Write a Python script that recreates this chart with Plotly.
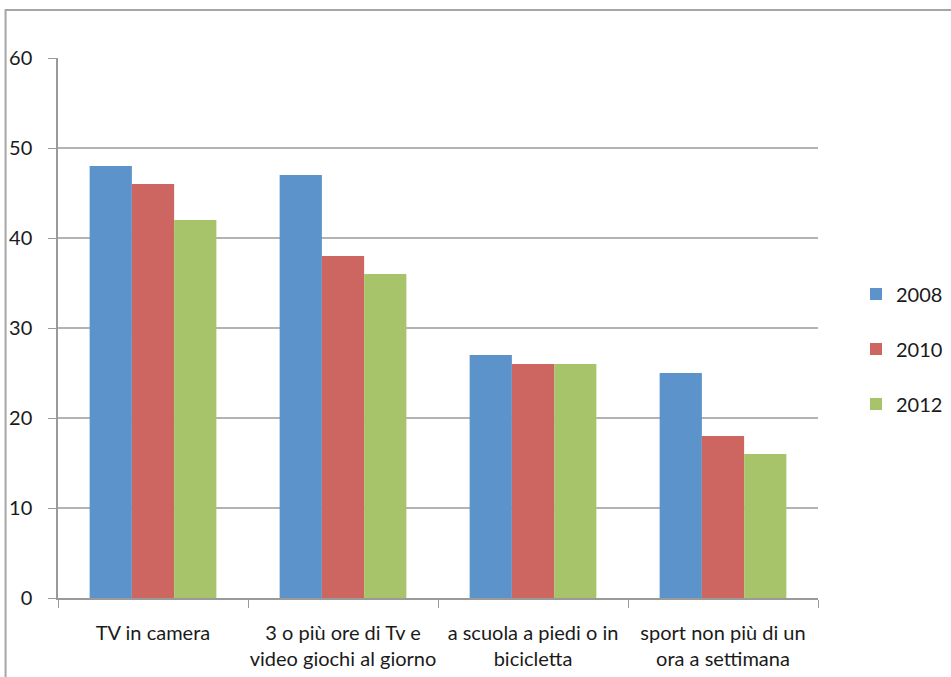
import plotly.graph_objects as go

# dati
categorie = [
    "TV in camera",
    "3 o più ore di Tv e<br>video giochi al giorno",
    "a scuola a piedi o in<br>bicicletta",
    "sport non più di un<br>ora a settimana",
]
anni = ["2008", "2010", "2012"]
valori_2008 = [48, 47, 27, 25]
valori_2010 = [46, 38, 26, 18]
valori_2012 = [42, 36, 26, 16]
y_ticks = [0, 10, 20, 30, 40, 50, 60]

colori = ["#5B93CA", "#CD6660", "#A7C46A"]
FONT = "Lato, Roboto, sans-serif"

fig = go.Figure()
for anno, vals, col in zip(anni, [valori_2008, valori_2010, valori_2012], colori):
    fig.add_trace(go.Bar(x=categorie, y=vals, name=anno, legendgroup=anno,
                         marker=dict(color=col, line=dict(width=0))))

fig.update_layout(
    width=951, height=677,
    margin=dict(l=58, r=133, t=58, b=79, autoexpand=False),
    paper_bgcolor="white", plot_bgcolor="white",
    font=dict(family=FONT, size=20, color="#1a1a1a"),
    barmode="group", bargap=0.333, bargroupgap=0,
    showlegend=True,
    legend=dict(x=1.05, y=0.461, xanchor="left", yanchor="middle",
                tracegroupgap=26, font=dict(size=20), itemwidth=30,
                bgcolor="rgba(0,0,0,0)"),
    # cornice del grafico (tagliata come nello screenshot)
    shapes=[dict(type="rect", xref="paper", yref="paper",
                 x0=-0.069, y0=-0.3, x1=1.4, y1=1.089,
                 line=dict(color="#a6a6a6", width=2), layer="below")],
)

fig.update_xaxes(
    showline=True, linecolor="#9a9a9a", linewidth=1.5,
    ticks="outside", tickson="boundaries", ticklen=8, tickcolor="#9a9a9a",
    ticklabelstandoff=16, showgrid=False, tickangle=0, automargin=False,
)
fig.update_yaxes(
    range=[0, 60], tickvals=y_ticks, showline=True, linecolor="#9a9a9a", linewidth=1.5,
    ticks="outside", ticklen=8, tickcolor="#9a9a9a", ticklabelstandoff=12,
    showgrid=True, gridcolor="#b3b3b3", gridwidth=1.5, zeroline=False, automargin=False,
)

fig.write_html("out.html", config={"displayModeBar": False},
               post_script="document.body.style.margin='0';")
